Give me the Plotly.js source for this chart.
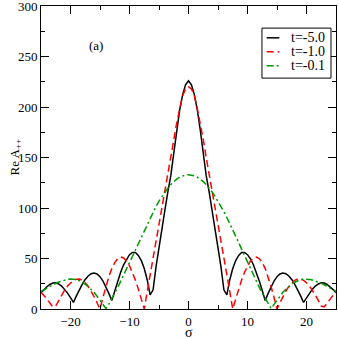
<!DOCTYPE html>
<html>
<head>
<meta charset="utf-8">
<script src="https://cdn.plot.ly/plotly-3.0.1.min.js"></script>
<style>
  body { margin: 0; padding: 0; background: #fff; }
  #chart { width: 338px; height: 338px; }
</style>
</head>
<body>
<div id="chart"></div>
<script>
let sigma = [
  -25, -24.5, -24, -23.5, -23, -22.5, -22, -21.5, -21, -20.5,
  -20, -19.5, -19, -18.5, -18, -17.5, -17, -16.5, -16, -15.5,
  -15, -14.5, -14, -13.5, -13, -12.5, -12, -11.5, -11, -10.5,
  -10, -9.5, -9, -8.5, -8, -7.5, -7, -6.5, -6, -5.5,
  -5, -4.5, -4, -3.5, -3, -2.5, -2, -1.5, -1, -0.5,
  0, 0.5, 1, 1.5, 2, 2.5, 3, 3.5, 4, 4.5,
  5, 5.5, 6, 6.5, 7, 7.5, 8, 8.5, 9, 9.5,
  10, 10.5, 11, 11.5, 12, 12.5, 13, 13.5, 14, 14.5,
  15, 15.5, 16, 16.5, 17, 17.5, 18, 18.5, 19, 19.5,
  20, 20.5, 21, 21.5, 22, 22.5, 23, 23.5, 24, 24.5, 25
]

// t = -5.0
let reA_t5 = [
  16, 19.2, 22, 24.3, 25.7, 25.9, 24.8, 22.7, 19.6, 15.7,
  11.2, 6.5, 13, 19.1, 24.6, 29.3, 32.7, 34.9, 35.6, 34.7,
  32, 27.7, 22, 15.5, 8.5, 18.3, 27.7, 36.3, 43.8, 49.6,
  53.8, 56, 56, 53, 48, 40, 29, 14, 19, 42,
  62, 78, 98, 116, 132, 154, 177, 197, 212, 222,
  226, 222, 212, 197, 177, 154, 132, 116, 98, 78,
  62, 42, 19, 14, 29, 40, 48, 53, 56, 56,
  53.8, 49.6, 43.8, 36.3, 27.7, 18.3, 8.5, 15.5, 22, 27.7,
  32, 34.7, 35.6, 34.9, 32.7, 29.3, 24.6, 19.1, 13, 6.5,
  11.2, 15.7, 19.6, 22.7, 24.8, 25.9, 25.7, 24.3, 22, 19.2, 16
]

// t = -1.0
let reA_t1 = [
  16.5, 13.5, 10, 6, 2, 2.9, 8.5, 13.8, 18.7, 22.7,
  26, 28.3, 29.5, 29.6, 28.4, 25.9, 22.3, 17.7, 12.3, 6.2,
  0, 11.5, 22, 32, 40, 46, 49.8, 51.5, 50.5, 47.6,
  42.8, 36.4, 28.6, 19.7, 10, 0, 17, 34, 51, 68,
  85, 101, 118, 134, 150, 168, 184, 198, 211, 218,
  220, 218, 211, 198, 184, 168, 150, 134, 118, 101,
  85, 68, 51, 34, 17, 0, 10, 19.7, 28.6, 36.4,
  42.8, 47.6, 50.5, 51.5, 49.8, 46, 40, 32, 22, 11.5,
  0, 6.2, 12.3, 17.7, 22.3, 25.9, 28.4, 29.6, 29.5, 28.3,
  26, 22.7, 18.7, 13.8, 8.5, 2.9, 2, 6, 10, 13.5, 16.5
]

// t = -0.1
let reA_t01 = [
  17.4, 19.1, 20.8, 22.4, 24, 25.4, 26.7, 27.8, 28.7, 29.3,
  29.7, 29.7, 29.2, 28, 26.5, 24.5, 22.2, 19.5, 16.5, 12.6,
  8.8, 4.6, 0.5, 4.9, 10.1, 15.7, 21.4, 27.4, 33.6, 39.9,
  46.3, 52.8, 59.3, 65.8, 72.2, 78.5, 84.7, 90.6, 96.3, 101.7,
  106.8, 111.5, 115.8, 119.7, 123.2, 126.1, 128.6, 130.5, 131.9, 132.7,
  133, 132.7, 131.9, 130.5, 128.6, 126.1, 123.2, 119.7, 115.8, 111.5,
  106.8, 101.7, 96.3, 90.6, 84.7, 78.5, 72.2, 65.8, 59.3, 52.8,
  46.3, 39.9, 33.6, 27.4, 21.4, 15.7, 10.1, 4.9, 0.5, 4.6,
  8.8, 12.6, 16.5, 19.5, 22.2, 24.5, 26.5, 28, 29.2, 29.7,
  29.7, 29.3, 28.7, 27.8, 26.7, 25.4, 24, 22.4, 20.8, 19.1, 17.4
]

let seriesNames = ['t=-5.0', 't=-1.0', 't=-0.1']
let seriesColors = ['#000000', '#ff0000', '#009a00']
let seriesDash = ['solid', '7px,4px', '7px,3px,2px,3px']

let serif = 'Liberation Serif, Times New Roman, serif'

let traces = [reA_t5, reA_t1, reA_t01].map(function (vals, i) {
  return {
    x: sigma,
    y: vals,
    type: 'scatter',
    mode: 'lines',
    name: seriesNames[i],
    showlegend: false,
    line: {color: seriesColors[i], width: 1.5, dash: seriesDash[i]}
  }
})

// legend drawn by hand so it can be as compact as the original
let legBox = {x0: 0.749, x1: 0.983, y0: 0.762, y1: 0.927}
let legRows = [0.895, 0.849, 0.803]
let shapes = [{
  type: 'rect', xref: 'paper', yref: 'paper',
  x0: legBox.x0, x1: legBox.x1, y0: legBox.y0, y1: legBox.y1,
  line: {color: '#000000', width: 1}, fillcolor: '#ffffff', layer: 'above'
}]
let annotations = [
  {
    text: '(a)', xref: 'paper', yref: 'paper',
    x: 0.155, y: 0.9, showarrow: false,
    font: {family: serif, size: 13}
  },
  { // axis titles
    text: 'σ', xref: 'paper', yref: 'paper',
    x: 0.5, y: -0.076, xanchor: 'center', yanchor: 'middle',
    borderpad: 0, showarrow: false,
    font: {family: serif, size: 14}
  },
  {
    text: 'Re A<sub>++</sub>', xref: 'paper', yref: 'paper',
    x: -0.088, y: 0.5, xanchor: 'center', yanchor: 'middle',
    textangle: -90, showarrow: false,
    font: {family: serif, size: 13}
  }
]
for (let i = 0; i < seriesNames.length; i++) {
  shapes.push({
    type: 'line', xref: 'paper', yref: 'paper',
    x0: 0.765, x1: 0.808, y0: legRows[i], y1: legRows[i],
    line: {color: seriesColors[i], width: 1.5, dash: seriesDash[i]},
    layer: 'above'
  })
  annotations.push({
    text: seriesNames[i], xref: 'paper', yref: 'paper',
    x: 0.842, y: legRows[i], xanchor: 'left', yanchor: 'middle',
    showarrow: false,
    font: {family: serif, size: 14}
  })
}

let layout = {
  width: 338,
  height: 338,
  autosize: false,
  margin: {l: 41, r: 2, t: 6, b: 29, pad: 0},
  paper_bgcolor: '#ffffff',
  plot_bgcolor: '#ffffff',
  font: {family: serif, size: 13, color: '#000000'},
  showlegend: false,
  xaxis: {
    range: [-25, 25],
    tick0: 0,
    dtick: 10,
    ticks: 'inside',
    ticklen: 8,
    tickwidth: 1,
    tickcolor: '#000000',
    showline: true,
    linecolor: '#000000',
    linewidth: 1,
    mirror: 'allticks',
    showgrid: false,
    zeroline: false,
    ticklabeloverflow: 'allow',
    minor: {dtick: 5, ticks: 'inside', ticklen: 4, tickcolor: '#000000'},
    tickfont: {family: serif, size: 13}
  },
  yaxis: {
    range: [0, 300],
    tick0: 50,
    dtick: 50,
    ticks: 'inside',
    ticklen: 8,
    tickwidth: 1,
    tickcolor: '#000000',
    showline: true,
    linecolor: '#000000',
    linewidth: 1,
    mirror: 'allticks',
    showgrid: false,
    zeroline: false,
    ticklabeloverflow: 'allow',
    minor: {dtick: 25, ticks: 'inside', ticklen: 4, tickcolor: '#000000'},
    tickfont: {family: serif, size: 13}
  },
  shapes: shapes,
  annotations: annotations
}

Plotly.newPlot('chart', traces, layout, {displayModeBar: false, staticPlot: true})
</script>
</body>
</html>
